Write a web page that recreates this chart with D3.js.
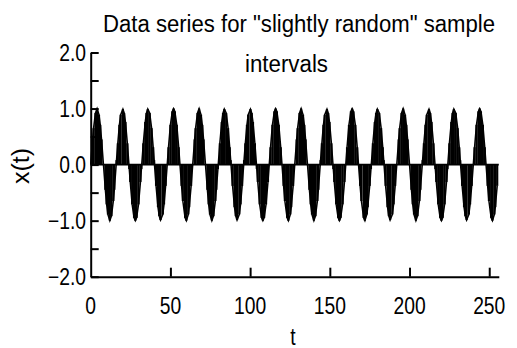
<!DOCTYPE html>
<html><head><meta charset="utf-8">
<script src="https://cdn.jsdelivr.net/npm/d3@7"></script>
<style>html,body{margin:0;padding:0;background:#fff;} svg{display:block;}</style>
</head><body>
<svg id="chart" width="517" height="348"></svg>
<script>
// sample times (slightly random intervals) and series values
const sampleT = [
  0,1.2,1.8,3,4,5.2,6,6.8,8,9.2,10,10.8,12,13,14.2,14.8,
  16.2,17,18,18.8,20.2,21,21.8,23,24.2,24.8,26,27.2,28,28.8,30,31.2,
  31.8,33,34.2,35,35.8,37,38.2,39.2,39.8,41,42.2,43,43.8,45.2,46,47,
  48,48.8,50,51.2,52,52.8,54,55.2,56,57,57.8,59.2,60,61.2,61.8,63,
  64,65.2,65.8,67,68,69.2,70,70.8,72,73.2,74,74.8,76,77,78.2,78.8,
  79.8,81,82.2,83,83.8,85,86.2,87.2,87.8,89,90.2,91,91.8,93.2,94,95,
  96.2,97,98,98.8,100.2,101,101.8,103,104.2,104.8,106,107.2,108,108.8,110,111.2,
  112,112.8,114,115.2,116,116.8,118,119.2,120,121,121.8,123.2,124,125.2,125.8,127,
  128,129.2,129.8,131,132,133.2,134,134.8,136,137.2,138,138.8,140,141,142.2,142.8,
  144.2,145,146,146.8,148.2,149,149.8,151,152.2,152.8,154,155.2,156,156.8,158,159.2,
  160,160.8,162,163.2,164,164.8,166,167.2,168,169,169.8,171.2,172,173.2,173.8,175,
  175.8,177,178.2,179,179.8,181,182.2,183.2,183.8,185,186.2,187,187.8,189.2,190,191,
  192,193.2,193.8,195,196,197.2,198,198.8,200,201.2,202,202.8,204,205,206.2,206.8,
  208.2,209,210,210.8,212.2,213,213.8,215,216.2,216.8,218,219.2,220,220.8,222,223.2,
  223.8,225,226.2,227,227.8,229,230.2,231.2,231.8,233,234.2,235,235.8,237.2,238,239,
  240,240.8,242,243.2,244,244.8,246,247.2,248,249,249.8,251.2,252,253.2,253.8,255
];
const sampleX = [
  0,.45,.65,.92,1,.89,.71,.45,0,-.45,-.71,-.89,-1,-.92,-.65,-.45,
  .08,.38,.71,.89,.99,.92,.76,.38,-.08,-.31,-.71,-.95,-1,-.95,-.71,-.31,
  -.08,.38,.76,.92,.99,.92,.65,.31,.08,-.38,-.76,-.92,-.99,-.89,-.71,-.38,
  0,.31,.71,.95,1,.95,.71,.31,0,-.38,-.65,-.95,-1,-.89,-.76,-.38,
  0,.45,.65,.92,1,.89,.71,.45,0,-.45,-.71,-.89,-1,-.92,-.65,-.45,
  -.08,.38,.76,.92,.99,.92,.65,.31,.08,-.38,-.76,-.92,-.99,-.89,-.71,-.38,
  .08,.38,.71,.89,.99,.92,.76,.38,-.08,-.31,-.71,-.95,-1,-.95,-.71,-.31,
  0,.31,.71,.95,1,.95,.71,.31,0,-.38,-.65,-.95,-1,-.89,-.76,-.38,
  0,.45,.65,.92,1,.89,.71,.45,0,-.45,-.71,-.89,-1,-.92,-.65,-.45,
  .08,.38,.71,.89,.99,.92,.76,.38,-.08,-.31,-.71,-.95,-1,-.95,-.71,-.31,
  0,.31,.71,.95,1,.95,.71,.31,0,-.38,-.65,-.95,-1,-.89,-.76,-.38,
  -.08,.38,.76,.92,.99,.92,.65,.31,.08,-.38,-.76,-.92,-.99,-.89,-.71,-.38,
  0,.45,.65,.92,1,.89,.71,.45,0,-.45,-.71,-.89,-1,-.92,-.65,-.45,
  .08,.38,.71,.89,.99,.92,.76,.38,-.08,-.31,-.71,-.95,-1,-.95,-.71,-.31,
  -.08,.38,.76,.92,.99,.92,.65,.31,.08,-.38,-.76,-.92,-.99,-.89,-.71,-.38,
  0,.31,.71,.95,1,.95,.71,.31,0,-.38,-.65,-.95,-1,-.89,-.76,-.38
];
const xDomain = [0, 256];
const yDomain = [-2, 2];
const xTickValues = [50, 100, 150, 200, 250];
const xLabelValues = [0, 50, 100, 150, 200, 250];
const yTickValues = [-2, -1.5, -1, -0.5, 0, 0.5, 1, 1.5, 2];
const yLabelValues = [-2, -1, 0, 1, 2];
const titleLines = ['Data series for "slightly random" sample', 'intervals'];
const xTitle = 't';
const yTitle = 'x(t)';

const svg = d3.select('#chart');
const x = d3.scaleLinear().domain(xDomain).range([90.7, 498.8]);
const y = d3.scaleLinear().domain(yDomain).range([276.7, 52.5]);
const FONT = '"Liberation Sans", Arial, sans-serif';

function addText(txt, px, py, anchor, rot, width) {
  const t = svg.append('text')
    .attr('text-anchor', anchor)
    .style('font-family', FONT)
    .style('font-size', '23px')
    .attr('fill', '#000')
    .text(txt);
  if (width) {
    t.attr('transform', `translate(${px},${py}) rotate(${rot || 0})`)
     .attr('textLength', width).attr('lengthAdjust', 'spacingAndGlyphs');
  } else {
    t.attr('transform', `translate(${px},${py}) rotate(${rot || 0}) scale(0.84,1)`);
  }
}

// data: stems from zero plus connecting line
const idx = d3.range(sampleT.length);
svg.append('g').selectAll('line').data(idx).join('line')
  .attr('x1', i => x(sampleT[i])).attr('x2', i => x(sampleT[i]))
  .attr('y1', y(0)).attr('y2', i => y(sampleX[i]))
  .attr('stroke', '#000').attr('stroke-width', 2.2);
svg.append('path')
  .datum(idx)
  .attr('fill', 'none').attr('stroke', '#000').attr('stroke-width', 1.5)
  .attr('d', d3.line().x(i => x(sampleT[i])).y(i => y(sampleX[i])));
svg.append('line')
  .attr('x1', x(xDomain[0])).attr('x2', x(xDomain[1]))
  .attr('y1', y(0)).attr('y2', y(0))
  .attr('stroke', '#000').attr('stroke-width', 1.6);

// axes
const gy = svg.append('g').attr('transform', `translate(${x(0)},0)`)
  .call(d3.axisRight(y).tickValues(yTickValues).tickSize(8).tickSizeOuter(0).tickFormat(''));
const gx = svg.append('g').attr('transform', `translate(0,${y(-2)})`)
  .call(d3.axisTop(x).tickValues(xTickValues).tickSize(9).tickSizeOuter(0).tickFormat(''));
[gy, gx].forEach(g => {
  g.selectAll('path,line').attr('stroke', '#000').attr('stroke-width', 2);
});

// tick labels
const fmt = d3.format('.1f');
yLabelValues.forEach(v => addText(fmt(v).replace('-', '\u2212'), 86, y(v) + 8, 'end'));
xLabelValues.forEach(v => addText(String(v), x(v), 314, 'middle'));

// titles
addText(titleLines[0], 299, 32, 'middle', 0, 392);
addText(titleLines[1], 286.5, 72, 'middle', 0, 83);
addText(xTitle, 293, 345, 'middle');
addText(yTitle, 29, 166, 'middle', -90, 36);
</script>
</body></html>
